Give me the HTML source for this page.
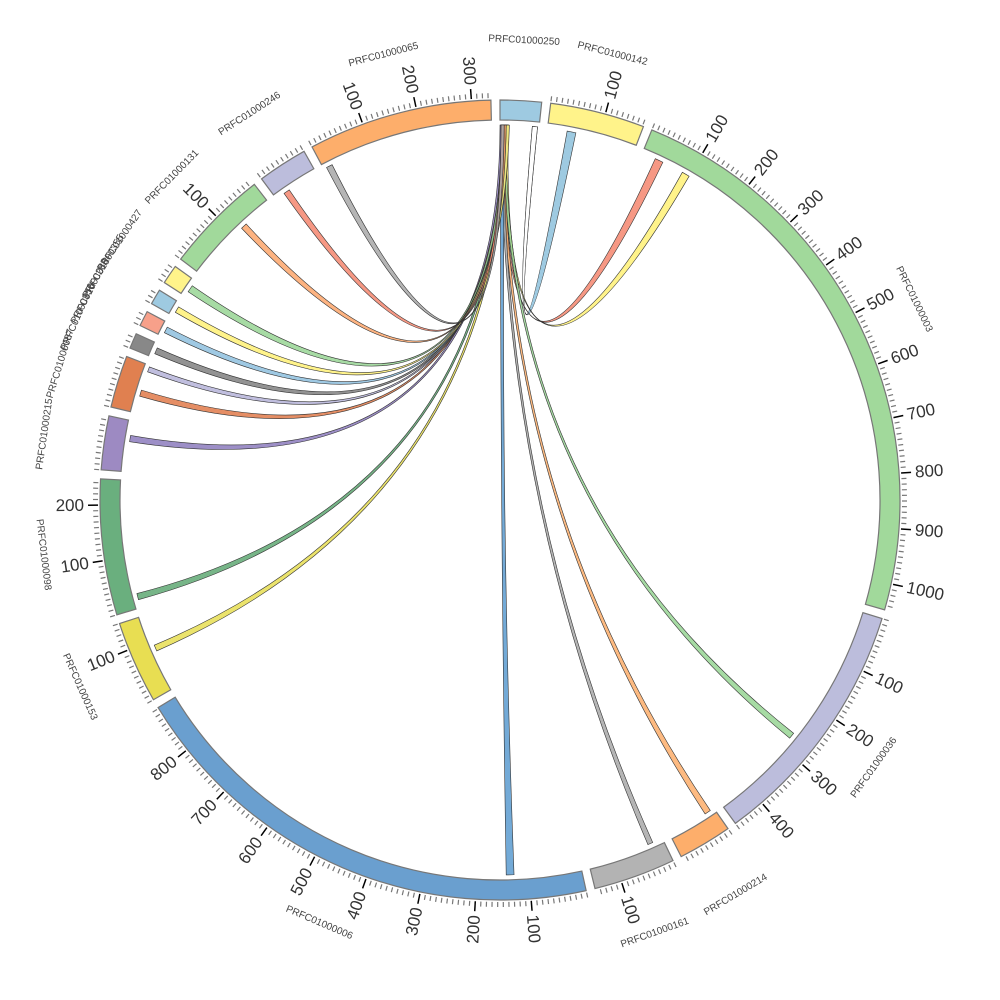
<!DOCTYPE html>
<html><head><meta charset="utf-8"><style>
html,body{margin:0;padding:0;background:#fff;}
svg{display:block;font-family:"Liberation Sans",sans-serif;}
</style></head><body>
<svg id="chart" width="1000" height="1000" viewBox="0 0 1000 1000">
<g id="root" transform="translate(500,500)"></g>
</svg>
<script>
const segNames = ["PRFC01000250","PRFC01000142","PRFC01000003","PRFC01000036","PRFC01000214","PRFC01000161","PRFC01000006","PRFC01000153","PRFC01000098","PRFC01000215","PRFC01000087","PRFC01000356","PRFC01000283","PRFC01000355","PRFC01000427","PRFC01000131","PRFC01000246","PRFC01000065"];
const segLengths = [75,172,1048,460,98,149,892,150,247,98,95,28,28,28,35,189,91,335];
const segColors = ["#9ecae1","#fff38a","#a1d99b","#bcbddc","#fdae6b","#b3b3b3","#6a9fcf","#e8de52","#6aaf7e","#9d8ac2","#e08050","#888888","#f7a08a","#9ecae1","#fff38a","#a1d99b","#bcbddc","#fdae6b"];
const segTicks = [false,true,true,true,true,true,true,true,true,true,true,true,true,true,true,true,true,true];
const linkSrcStart = [62,4,10,6,3,2,1,8,5,0,4,7,9,11,12,3,6,2,2];
const linkSrcEnd   = [72,10,16,12,9,8,9,14,11,7,10,13,15,17,18,9,12,8,8];
const linkTgtSeg   = [1,2,2,3,4,5,6,7,8,9,10,10,11,12,13,14,15,16,17];
const linkTgtStart = [38,27,85,266,8,20,129,78,16,58,33,82,8,8,8,10,118,18,6];
const linkTgtEnd   = [55,43,100,278,20,30,144,90,28,70,45,92,20,20,20,24,130,30,18];
const linkColors   = ["#9ecae1","#f4866e","#fff176","#98d594","#fdae6b","#a8a8a8","#5b9bd0","#e8de52","#5fa873","#8c7bbd","#e07a4a","#b5b3d8","#808080","#8ec0de","#fff176","#98d594","#fda66b","#f4866e","#a8a8a8"];

const K = 0.0798, RI = 380, RO = 400, RL = 375;
const total = segLengths.reduce((a,b)=>a+b,0)*K;
const GAP = (360-total)/segLengths.length;
const starts = []; let acc = 0;
segLengths.forEach((l,i)=>{starts.push(acc); acc += l*K + GAP;});
const ang = (s,u)=> (starts[s] + u*K);
const rad = d => d*Math.PI/180;
const Pn = (d,r)=> [ r*Math.sin(rad(d)), -r*Math.cos(rad(d)) ];
const P = (d,r)=> Pn(d,r).map(v=>v.toFixed(2));
const f = p => p.map(v=>v.toFixed(2)).join(',');
const root = document.getElementById('root');
const NS = "http://www.w3.org/2000/svg";
function mk(tag, attrs){const e=document.createElementNS(NS,tag);for(const k in attrs)e.setAttribute(k,attrs[k]);return e;}

const linkG = mk('g',{}); root.appendChild(linkG);
function ribbon(s0,s1,t0,t1){
  const a=P(s0,RL),b=P(s1,RL),c=P(t0,RL),d=P(t1,RL);
  return `M${a}A${RL},${RL} 0 0 1 ${b}Q0,0 ${c}A${RL},${RL} 0 0 1 ${d}Q0,0 ${a}Z`;
}
// source half of ribbon (split quadratics at t=0.5)
function halfRibbon(s0,s1,t0,t1){
  const a=Pn(s0,RL),b=Pn(s1,RL),c=Pn(t0,RL),d=Pn(t1,RL);
  const m1=[0.25*b[0]+0.25*c[0],0.25*b[1]+0.25*c[1]], c1=[b[0]/2,b[1]/2];
  const m2=[0.25*d[0]+0.25*a[0],0.25*d[1]+0.25*a[1]], c2=[a[0]/2,a[1]/2];
  return `M${f(a)}A${RL},${RL} 0 0 1 ${f(b)}Q${f(c1)} ${f(m1)}L${f(m2)}Q${f(c2)} ${f(a)}Z`;
}
for(let i=0;i<linkTgtSeg.length;i++){
  const s0=ang(0,linkSrcStart[i]), s1=ang(0,linkSrcEnd[i]), t0=ang(linkTgtSeg[i],linkTgtStart[i]), t1=ang(linkTgtSeg[i],linkTgtEnd[i]);
  const p = mk('path',{d:ribbon(s0,s1,t0,t1),fill:linkColors[i],'fill-opacity':i===0?1:0.85,stroke:'#333','stroke-width':0.6});
  
  
  linkG.appendChild(p);
  if(i===0){
    const h = mk('path',{d:halfRibbon(s0,s1,t0,t1),fill:'#ffffff',stroke:'#333','stroke-width':0.6});
    
    
    linkG.appendChild(h);
  }
}

segLengths.forEach((len,i)=>{
  const g = mk('g',{});
  
  
  root.appendChild(g);
  const a0=starts[i], a1=a0+len*K, lg=(a1-a0)>180?1:0;
  const d=`M${P(a0,RO)}A${RO},${RO} 0 ${lg} 1 ${P(a1,RO)}L${P(a1,RI)}A${RI},${RI} 0 ${lg} 0 ${P(a0,RI)}Z`;
  const arc = mk('path',{d:d,fill:segColors[i],stroke:'#777','stroke-width':1.2});
  
  
  g.appendChild(arc);
  if(segTicks[i]){
    for(let u=0;u<=len;u+=10){
      const a=ang(i,u), major = u%100===0 && u>0;
      const p1=P(a,RO+2), p2=P(a,RO+(major?12:7));
      const t=mk('line',{x1:p1[0],y1:p1[1],x2:p2[0],y2:p2[1],stroke:major?'#000':'#777','stroke-width':major?1.5:1.2});
      
      
      g.appendChild(t);
      if(major){
        const flip = a>180;
        const tx = mk('text',{transform:`rotate(${(a-90).toFixed(2)}) translate(416,0)`+(flip?' rotate(180)':''),'text-anchor':flip?'end':'start','dominant-baseline':'central','font-size':17,fill:'#333'});
        tx.textContent = u;
        
        
        g.appendChild(tx);
      }
    }
  }
  const mid=(a0+a1)/2; const pos=P(mid,460);
  let rot = mid<90?mid:(mid<270?mid-180:mid-360);
  const lab = mk('text',{x:pos[0],y:pos[1],transform:`rotate(${rot.toFixed(2)},${pos[0]},${pos[1]})`,'text-anchor':'middle','dominant-baseline':'central','font-size':10,fill:'#444'});
  lab.textContent = segNames[i];
  
  
  g.appendChild(lab);
});
</script>
</body></html>
